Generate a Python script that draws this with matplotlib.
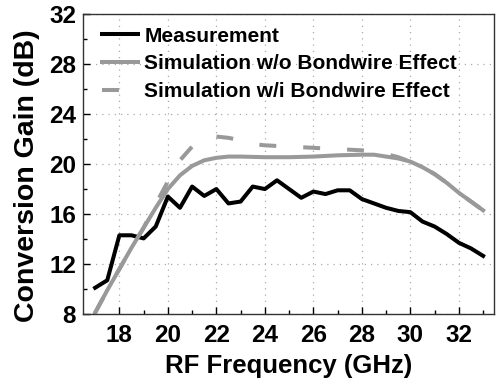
import matplotlib
matplotlib.use("Agg")
import matplotlib.pyplot as plt
from matplotlib.ticker import MultipleLocator

# measured conversion gain, 0.5 GHz steps
meas_freq = [17, 17.5, 18, 18.5, 19, 19.5, 20, 20.5, 21, 21.5, 22, 22.5, 23,
             23.5, 24, 24.5, 25, 25.5, 26, 26.5, 27, 27.5, 28, 28.5, 29, 29.5,
             30, 30.5, 31, 31.5, 32, 32.5, 33]
meas_gain = [10.1, 10.7, 14.3, 14.3, 14.05, 15.0, 17.4, 16.5, 18.2, 17.45,
             18.0, 16.85, 17.0, 18.2, 18.0, 18.7, 18.0, 17.3, 17.8, 17.6,
             17.9, 17.9, 17.2, 16.85, 16.5, 16.25, 16.15, 15.4, 15.0, 14.4,
             13.7, 13.25, 12.65]

# simulation without bondwire
sim_freq = [17, 17.5, 18, 18.5, 19, 19.5, 20, 20.5, 21, 21.5, 22, 22.5, 23,
            24, 25, 26, 27, 28, 28.5, 29, 29.5, 30, 30.5, 31, 31.5, 32,
            32.5, 33]
sim_gain = [8.1, 9.9, 11.6, 13.3, 14.9, 16.5, 18.0, 19.1, 19.85, 20.3, 20.5,
            20.6, 20.6, 20.55, 20.55, 20.6, 20.7, 20.75, 20.75, 20.6, 20.45,
            20.2, 19.75, 19.2, 18.5, 17.7, 17.0, 16.3]

# simulation with bondwire
bw_freq = [17, 17.5, 18, 18.5, 19, 19.5, 20, 20.5, 21, 21.5, 22, 22.5, 23,
           23.5, 24, 25, 26, 27, 28, 28.5, 29, 29.5, 30, 30.5, 31, 31.5, 32,
           32.5, 33]
bw_gain = [8.1, 9.9, 11.6, 13.3, 14.9, 16.8, 18.6, 20.3, 21.4, 22.0, 22.2,
           22.1, 21.9, 21.6, 21.5, 21.4, 21.3, 21.2, 21.1, 21.0, 20.8, 20.55,
           20.2, 19.75, 19.2, 18.5, 17.7, 17.0, 16.3]

labels = ["Measurement", "Simulation w/o Bondwire Effect",
          "Simulation w/i Bondwire Effect"]

plt.rcParams["font.family"] = ["Liberation Sans", "DejaVu Sans"]
plt.rcParams["font.weight"] = "bold"

fig = plt.figure(figsize=(4.97, 3.82), dpi=100)
ax = fig.add_axes([0.167, 0.178, 0.827, 0.785])

gray = "#999999"
ax.plot(meas_freq, meas_gain, color="black", lw=2.9, label=labels[0])
ax.plot(sim_freq, sim_gain, color=gray, lw=2.9, label=labels[1])
ax.plot(bw_freq, bw_gain, color=gray, lw=2.9, dashes=(4.2, 6.7),
        label=labels[2])

ax.set_xlim(16.5, 33.45)
ax.set_ylim(8, 32)
ax.xaxis.set_major_locator(MultipleLocator(2))
ax.xaxis.set_minor_locator(MultipleLocator(1))
ax.yaxis.set_major_locator(MultipleLocator(4))
ax.yaxis.set_minor_locator(MultipleLocator(2))
ax.set_xticks(range(18, 33, 2))

ax.grid(True, which="major", color="#aaaaaa", linestyle=(0, (1, 4)), lw=0.9)
ax.tick_params(which="both", direction="in", top=False, right=False,
               labelsize=17.5, width=1)
ax.tick_params(which="major", length=5)
ax.tick_params(which="minor", length=3)
ax.tick_params(axis="x", pad=7)
ax.tick_params(axis="y", pad=5)
for lab in ax.get_xticklabels() + ax.get_yticklabels():
    lab.set_fontweight("bold")
for sp in ax.spines.values():
    sp.set_color("#333333")
    sp.set_linewidth(1)

ax.set_xlabel("RF Frequency (GHz)", fontsize=18.5, fontweight="bold",
              labelpad=5)
ax.set_ylabel("Conversion Gain (dB)", fontsize=20.5, fontweight="bold")
ax.yaxis.set_label_coords(-0.105, 0.46)

ax.legend(loc="upper left", bbox_to_anchor=(0.015, 1.0), frameon=False,
          handlelength=1.75, handletextpad=0.3, labelspacing=0.42,
          borderaxespad=0.2, prop={"weight": "bold", "size": 15})

fig.savefig("out.png", dpi=100)
